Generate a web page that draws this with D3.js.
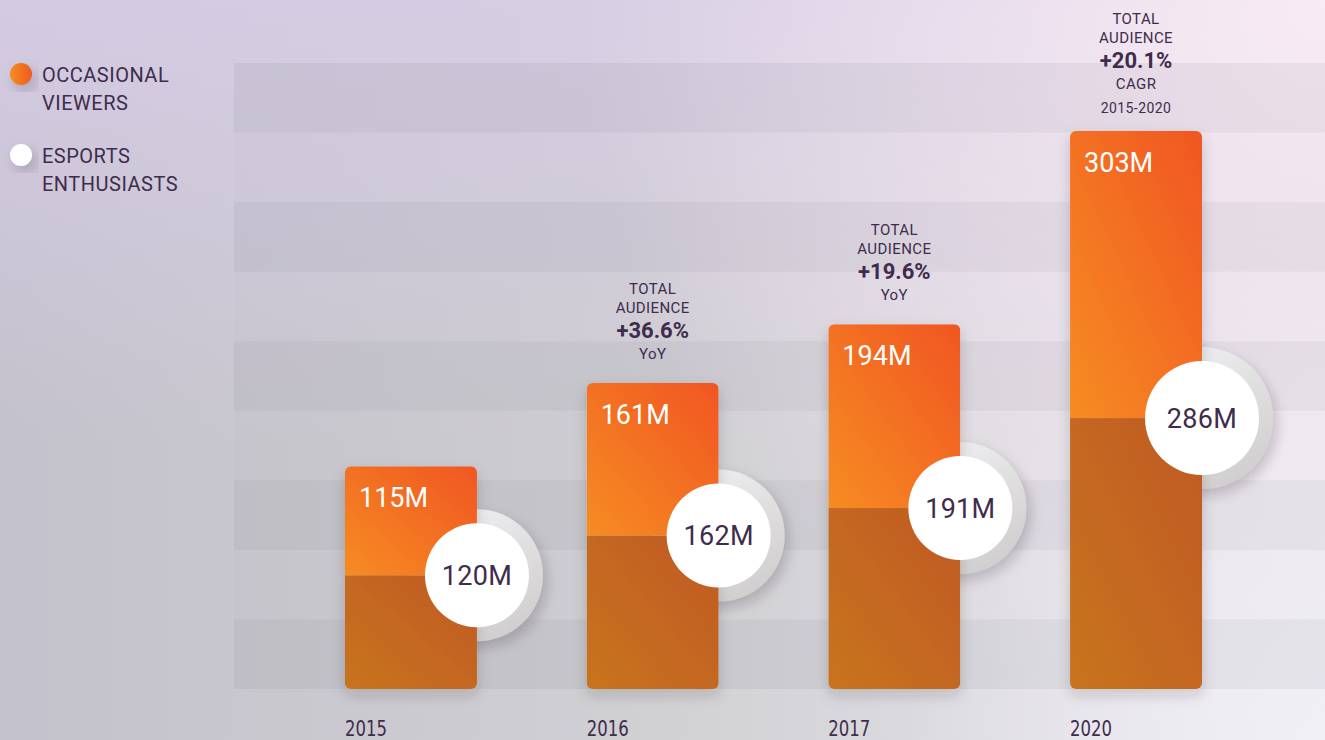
<!DOCTYPE html>
<html>
<head>
<meta charset="utf-8">
<script src="https://cdn.jsdelivr.net/npm/d3@7"></script>
<style>
  html, body { margin: 0; padding: 0; overflow: hidden; }
  body { width: 1325px; height: 740px; }
  text { font-family: Roboto, "Open Sans", sans-serif; }
</style>
</head>
<body>
<div class="container"></div>
<script>
// chart values
const years = ["2015", "2016", "2017", "2020"];
const occasional = [115, 161, 194, 303];
const enthusiasts = [120, 162, 191, 286];
const growth = [null, "+36.6%", "+19.6%", "+20.1%"];
const growthBasis = [null, ["YoY"], ["YoY"], ["CAGR", "2015-2020"]];
const legendLabels = [["OCCASIONAL", "VIEWERS"], ["ESPORTS", "ENTHUSIASTS"]];

const width = 1325, height = 740;
const baseY = 689;
const ink = "#3f2c4d";

const totals = years.map((d, i) => occasional[i] + enthusiasts[i]);
const rows = d3.range(9);

const svg = d3.select(".container")
              .append("svg")
              .attr("width", width)
              .attr("height", height);

const defs = svg.append("defs");

// background gradients
const bgX = defs.append("linearGradient").attr("id", "bgX");
bgX.append("stop").attr("offset", 0).attr("stop-color", "#c3c1cb");
bgX.append("stop").attr("offset", 0.5).attr("stop-color", "#d1d0d3");
bgX.append("stop").attr("offset", 1).attr("stop-color", "#ebe9f0");

const bgTop = defs.append("linearGradient").attr("id", "bgTop")
                  .attr("x1", 0).attr("y1", 0).attr("x2", 0).attr("y2", 1);
bgTop.append("stop").attr("offset", 0).attr("stop-color", "#d8cde8").attr("stop-opacity", 0.8);
bgTop.append("stop").attr("offset", 0.6).attr("stop-color", "#d8cde8").attr("stop-opacity", 0);

const bgPink = defs.append("radialGradient").attr("id", "bgPink")
                   .attr("gradientUnits", "userSpaceOnUse")
                   .attr("cx", 1325).attr("cy", 0).attr("r", 750);
bgPink.append("stop").attr("offset", 0).attr("stop-color", "#f8ebf3").attr("stop-opacity", 1);
bgPink.append("stop").attr("offset", 1).attr("stop-color", "#f8ebf3").attr("stop-opacity", 0);

const bgLow = defs.append("radialGradient").attr("id", "bgLow")
                  .attr("gradientUnits", "userSpaceOnUse")
                  .attr("cx", 1325).attr("cy", 740).attr("r", 420);
bgLow.append("stop").attr("offset", 0).attr("stop-color", "#f2f0f7").attr("stop-opacity", 0.9);
bgLow.append("stop").attr("offset", 1).attr("stop-color", "#f2f0f7").attr("stop-opacity", 0);

// bar fills
const occGrad = defs.append("linearGradient").attr("id", "occGrad")
                    .attr("x1", 0).attr("y1", 1).attr("x2", 1).attr("y2", 0);
occGrad.append("stop").attr("offset", 0).attr("stop-color", "#f68c24");
occGrad.append("stop").attr("offset", 1).attr("stop-color", "#f05623");

const enthGrad = defs.append("linearGradient").attr("id", "enthGrad")
                     .attr("x1", 0).attr("y1", 1).attr("x2", 1).attr("y2", 0);
enthGrad.append("stop").attr("offset", 0).attr("stop-color", "#c8741f");
enthGrad.append("stop").attr("offset", 1).attr("stop-color", "#c05a21");

const haloGrad = defs.append("linearGradient").attr("id", "haloGrad")
                     .attr("x1", 0.2).attr("y1", 0).attr("x2", 0.8).attr("y2", 1);
haloGrad.append("stop").attr("offset", 0).attr("stop-color", "#f1f1f3");
haloGrad.append("stop").attr("offset", 1).attr("stop-color", "#cfcccd");

const legGrad = defs.append("linearGradient").attr("id", "legGrad");
legGrad.append("stop").attr("offset", 0).attr("stop-color", "#f68c24");
legGrad.append("stop").attr("offset", 1).attr("stop-color", "#f05a23");

const shadow = defs.append("filter").attr("id", "shadow")
                   .attr("x", "-30%").attr("y", "-30%").attr("width", "160%").attr("height", "160%");
shadow.append("feDropShadow").attr("dx", 0).attr("dy", 6).attr("stdDeviation", 7)
      .attr("flood-color", "#2a1a2a").attr("flood-opacity", 0.18);

const haloShadow = defs.append("filter").attr("id", "haloShadow")
                       .attr("x", "-30%").attr("y", "-30%").attr("width", "160%").attr("height", "160%");
haloShadow.append("feDropShadow").attr("dx", 4).attr("dy", 6).attr("stdDeviation", 6)
          .attr("flood-color", "#3a2a30").attr("flood-opacity", 0.22);

// background
svg.append("rect").attr("width", width).attr("height", height).attr("fill", "url(#bgX)");
svg.append("rect").attr("width", width).attr("height", height).attr("fill", "url(#bgTop)");
svg.append("rect").attr("width", width).attr("height", height).attr("fill", "url(#bgPink)");
svg.append("rect").attr("width", width).attr("height", height).attr("fill", "url(#bgLow)");

// scales
const x = d3.scaleBand()
            .domain(years)
            .range([345, 1202])
            .paddingInner(0.454);

const y = d3.scaleLinear()
            .domain([0, d3.max(totals)])
            .range([baseY, 131]);

const rowScale = d3.scaleBand()
                   .domain(rows)
                   .range([baseY, 63]);

// horizontal stripes
svg.append("g")
   .selectAll("rect")
   .data(rows)
   .join("rect")
   .attr("x", 234)
   .attr("width", width - 234)
   .attr("y", d => rowScale(d))
   .attr("height", rowScale.bandwidth())
   .attr("fill", "#3a3040")
   .attr("fill-opacity", d => d % 2 === 0 ? 0.06 : 0.012);

// legend
const legend = svg.append("g");
legendLabels.forEach((lines, i) => {
    const g = legend.append("g").attr("transform", `translate(0, ${i * 81})`);
    g.append("circle")
     .attr("cx", 21).attr("cy", 74).attr("r", 11)
     .attr("fill", i === 0 ? "url(#legGrad)" : "#ffffff")
     .attr("filter", "url(#haloShadow)");
    g.selectAll("text")
     .data(lines)
     .join("text")
     .attr("x", 42)
     .attr("y", (d, j) => 82 + j * 28)
     .attr("fill", ink)
     .style("font-size", "20px")
     .style("letter-spacing", "0.5px")
     .text(d => d);
});

const bars = svg.append("g")
                .selectAll("g")
                .data(years)
                .join("g");

const rad = (d, i) => i === years.length - 1 ? 57 : 52;

// grey halo discs behind the bars
bars.append("circle")
    .attr("cx", d => x(d) + x.bandwidth())
    .attr("cy", (d, i) => y(enthusiasts[i]))
    .attr("r", (d, i) => rad(d, i) + 14)
    .attr("fill", "url(#haloGrad)")
    .attr("filter", "url(#haloShadow)");

// stacked bars
bars.each(function(d, i) {
    const g = d3.select(this);
    const clipId = "clip" + i;
    defs.append("clipPath").attr("id", clipId)
        .append("rect")
        .attr("x", x(d))
        .attr("y", y(totals[i]))
        .attr("width", x.bandwidth())
        .attr("height", baseY - y(totals[i]))
        .attr("rx", 6);
    const sh = g.append("g").attr("filter", "url(#shadow)");
    const inner = sh.append("g").attr("clip-path", `url(#${clipId})`);
    inner.append("rect")
         .attr("x", x(d))
         .attr("y", y(enthusiasts[i]))
         .attr("width", x.bandwidth())
         .attr("height", baseY - y(enthusiasts[i]))
         .attr("fill", "url(#enthGrad)");
    inner.append("rect")
         .attr("x", x(d))
         .attr("y", y(totals[i]))
         .attr("width", x.bandwidth())
         .attr("height", y(enthusiasts[i]) - y(totals[i]))
         .attr("fill", "url(#occGrad)");
});

// occasional viewer labels
bars.append("text")
    .attr("x", d => x(d) + 14)
    .attr("y", (d, i) => y(totals[i]) + 41)
    .attr("fill", "#ffffff")
    .style("font-size", "27px")
    .text((d, i) => occasional[i] + "M");

// white enthusiast discs
bars.append("circle")
    .attr("cx", d => x(d) + x.bandwidth())
    .attr("cy", (d, i) => y(enthusiasts[i]))
    .attr("r", rad)
    .attr("fill", "#ffffff");

bars.append("text")
    .attr("x", d => x(d) + x.bandwidth())
    .attr("y", (d, i) => y(enthusiasts[i]))
    .attr("dy", "0.36em")
    .attr("text-anchor", "middle")
    .attr("fill", ink)
    .style("font-size", "27px")
    .style("font-weight", "400")
    .style("letter-spacing", "0.3px")
    .text((d, i) => enthusiasts[i] + "M");

// growth notes above bars
bars.each(function(d, i) {
    if (!growth[i]) return;
    const lines = [
        {t: "TOTAL", size: 15, w: 400, gap: 0},
        {t: "AUDIENCE", size: 15, w: 400, gap: 19},
        {t: growth[i], size: 22, w: 700, gap: 25}
    ];
    growthBasis[i].forEach((b, k) => lines.push({t: b, size: k === 0 ? 15 : 14, w: 400, gap: k === 0 ? 21 : 24}));
    let offs = 0;
    lines.forEach(l => { offs += l.gap; l.pos = offs; });
    const start = y(totals[i]) - (lines.length > 4 ? 18 : 24) - offs;
    d3.select(this).append("g")
      .selectAll("text")
      .data(lines)
      .join("text")
      .attr("x", x(d) + x.bandwidth() / 2)
      .attr("y", l => start + l.pos)
      .attr("text-anchor", "middle")
      .attr("fill", ink)
      .style("font-size", l => l.size + "px")
      .style("font-weight", l => l.w)
      .style("letter-spacing", l => l.w === 700 ? "0px" : "0.4px")
      .text(l => l.t);
});

// year labels along the bottom
const xAxis = d3.axisBottom(x).tickSize(0).tickPadding(0);
const axisG = svg.append("g")
                 .attr("transform", `translate(0, ${baseY})`)
                 .call(xAxis)
                 .call(g => g.select(".domain").remove());
axisG.selectAll(".tick text")
     .attr("x", -x.bandwidth() / 2)
     .attr("y", 47)
     .attr("dy", 0)
     .attr("text-anchor", "start")
     .attr("fill", ink)
     .attr("textLength", 42)
     .attr("lengthAdjust", "spacingAndGlyphs")
     .style("font-family", "'Liberation Sans Narrow', 'DejaVu Sans Condensed', Roboto, sans-serif")
     .style("font-size", "22px");
</script>
</body>
</html>
